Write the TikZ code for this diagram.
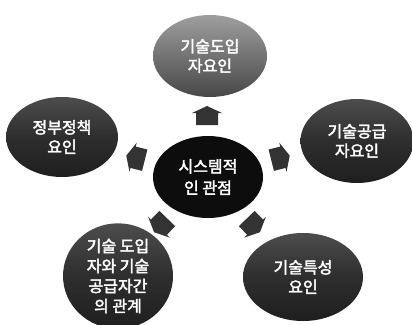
\documentclass[tikz,border=0pt]{standalone}
\usepackage{fontspec}
\newfontfamily\kr{Noto Sans CJK KR}[FakeBold=2.5]
\usetikzlibrary{shapes.geometric}
\begin{document}
\begin{tikzpicture}[x=1pt,y=-1pt,
  factor/.style={ellipse,draw=none,text=white,font=\kr\fontsize{16}{19.5}\selectfont,align=center,inner sep=0pt},
  darkfill/.style={top color=black!70,bottom color=black!88,middle color=black!82},
  lightfill/.style={top color=black!38,bottom color=black!72,middle color=black!55},
  flowarrow/.style={fill=black!80}
]
\useasboundingbox (0,0) rectangle (412,324);
\node[ellipse,fill=black!95,minimum width=110pt,minimum height=82pt,text=white,
  font=\kr\fontsize{16}{21.5}\selectfont,align=center,inner sep=0pt] (c) at (208,177) {시스템적\\인 관점};
\node[factor,lightfill,minimum width=114pt,minimum height=82pt] (t) at (210,56) {기술도입\\자요인};
\node[factor,darkfill,minimum width=112pt,minimum height=80pt] (l) at (62,137) {정부정책\\요인};
\node[factor,darkfill,minimum width=113pt,minimum height=84pt] (r) at (357,141) {기술공급\\자요인};
\node[factor,darkfill,minimum width=110pt,minimum height=94pt,font=\kr\fontsize{16}{20}\selectfont] (bl) at (118,276) {기술 도입\\자와 기술\\공급자간\\의 관계};
\node[factor,darkfill,minimum width=120pt,minimum height=88pt] (br) at (303,277) {기술특성\\요인};
\foreach \px/\py/\ang in {207/116/90, 136/158/166, 280/158/14, 161/225/226, 253/225/-46}{
  \fill[flowarrow,shift={(\px,\py)},rotate=\ang]
    (10,0) -- (3,15) -- (3,11) -- (-9,11) -- (-9,-11) -- (3,-11) -- (3,-15) -- cycle;
}
\end{tikzpicture}
\end{document}
